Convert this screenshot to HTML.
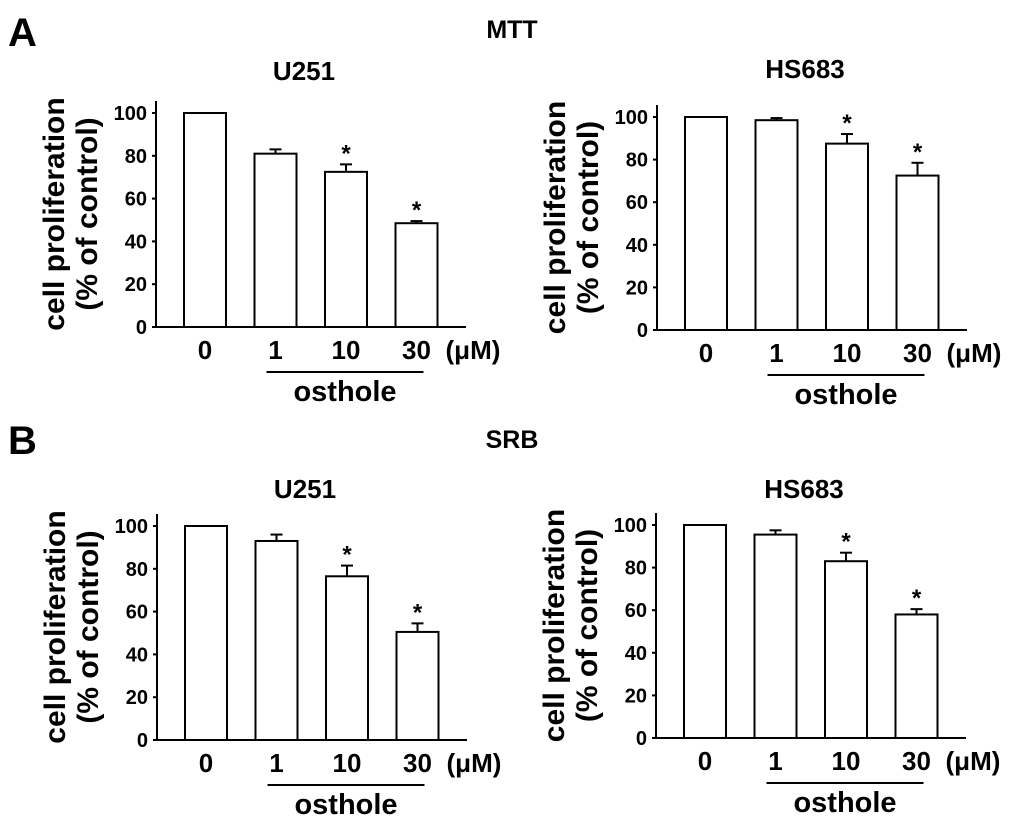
<!DOCTYPE html>
<html><head><meta charset="utf-8"><style>
body{margin:0;background:#fff;}
svg{display:block;font-family:"Liberation Sans",Arial,sans-serif;font-weight:bold;}
</style></head><body>
<svg id="fig" width="1024" height="823" viewBox="0 0 1024 823" xmlns="http://www.w3.org/2000/svg">
<text x="8" y="46" font-size="40">A</text>
<text x="512" y="38" font-size="25" text-anchor="middle">MTT</text>
<text x="8" y="454" font-size="40">B</text>
<text x="512" y="448" font-size="25" text-anchor="middle">SRB</text>
<g id="charts"></g>
</svg>
<script>
const categories = ["0","1","10","30"];
const tickLabels = [0,20,40,60,80,100];
const mttU251 = [100,81,72.5,48.5];
const mttU251Err = [0,2,3.5,1];
const mttU251Sig = [false,false,true,true];
const mttHS683 = [100,98.5,87.5,72.5];
const mttHS683Err = [0,1,4.5,6];
const mttHS683Sig = [false,false,true,true];
const srbU251 = [100,93,76.5,50.5];
const srbU251Err = [0,3,5,4];
const srbU251Sig = [false,false,true,true];
const srbHS683 = [100,95.5,83,58];
const srbHS683Err = [0,2,4,2.5];
const srbHS683Sig = [false,false,true,true];

const NS="http://www.w3.org/2000/svg";
const root=document.getElementById('charts');
function mk(tag,attrs,parent){const e=document.createElementNS(NS,tag);for(const k in attrs)e.setAttribute(k,attrs[k]);(parent||root).appendChild(e);return e;}

function panel(id,title,ax,y0,y100,titleY,vals,errs,sig){
  const g=mk('g',{});
  
  
  const y=v=>y0-(y0-y100)*v/100;
  const bx=i=>ax+28+i*70.5;
  const bw=42;
  const t=mk('text',{x:ax+148,y:titleY,'font-size':26,'text-anchor':'middle'},g);t.textContent=title;
  
  
  const yl=mk('text',{transform:`translate(${ax-92},${(y0+y100)/2-6}) rotate(-90)`,'font-size':30,'text-anchor':'middle'},g);yl.textContent='cell proliferation';
  
  
  const yl2=mk('text',{transform:`translate(${ax-59},${(y0+y100)/2-6}) rotate(-90)`,'font-size':30,'text-anchor':'middle'},g);yl2.textContent='(% of control)';
  
  
  const a1=mk('line',{x1:ax,y1:y0,x2:ax,y2:y100-12,stroke:'#000','stroke-width':2},g);
  
  
  const a2=mk('line',{x1:ax-1,y1:y0,x2:ax+310,y2:y0,stroke:'#000','stroke-width':2},g);
  
  
  tickLabels.forEach(v=>{
    const tk=mk('line',{x1:ax-4,y1:y(v),x2:ax,y2:y(v),stroke:'#000','stroke-width':2},g);
    
    
    const tl=mk('text',{x:ax-9,y:y(v)+7,'font-size':20,'text-anchor':'end'},g);tl.textContent=v;
    
    
  });
  vals.forEach((v,i)=>{
    const x=bx(i);
    if(errs[i]>0){
      const e1=mk('line',{x1:x+bw/2,y1:y(v),x2:x+bw/2,y2:y(v+errs[i]),stroke:'#000','stroke-width':2},g);
      
      
      const e2=mk('line',{x1:x+bw/2-6,y1:y(v+errs[i]),x2:x+bw/2+6,y2:y(v+errs[i]),stroke:'#000','stroke-width':2},g);
      
      
    }
    const r=mk('rect',{x:x,y:y(v),width:bw,height:y0-y(v),fill:'#fff',stroke:'#000','stroke-width':2},g);
    
    
    if(sig[i]){
      const s=mk('text',{x:x+bw/2,y:y(v+errs[i])-3,'font-size':24,'text-anchor':'middle'},g);s.textContent='*';
      
      
    }
    const c=mk('text',{x:x+bw/2,y:y0+32,'font-size':26,'text-anchor':'middle'},g);c.textContent=categories[i];
    
    
  });
  const u=mk('text',{x:bx(3)+bw+8,y:y0+32,'font-size':26},g);u.textContent='(\u03BCM)';
  
  
  const ol=mk('line',{x1:bx(1)+12,y1:y0+45,x2:bx(3)+28,y2:y0+45,stroke:'#000','stroke-width':2},g);
  
  
  const ot=mk('text',{x:(bx(1)+bx(3)+40)/2,y:y0+74,'font-size':29,'text-anchor':'middle'},g);ot.textContent='osthole';
  
  
}
panel('mtt-u251','U251',156,327,113,80,mttU251,mttU251Err,mttU251Sig);
panel('mtt-hs683','HS683',657,330,117,78,mttHS683,mttHS683Err,mttHS683Sig);
panel('srb-u251','U251',157,740,526,498,srbU251,srbU251Err,srbU251Sig);
panel('srb-hs683','HS683',656,738,525,498,srbHS683,srbHS683Err,srbHS683Sig);
</script>
</body></html>
